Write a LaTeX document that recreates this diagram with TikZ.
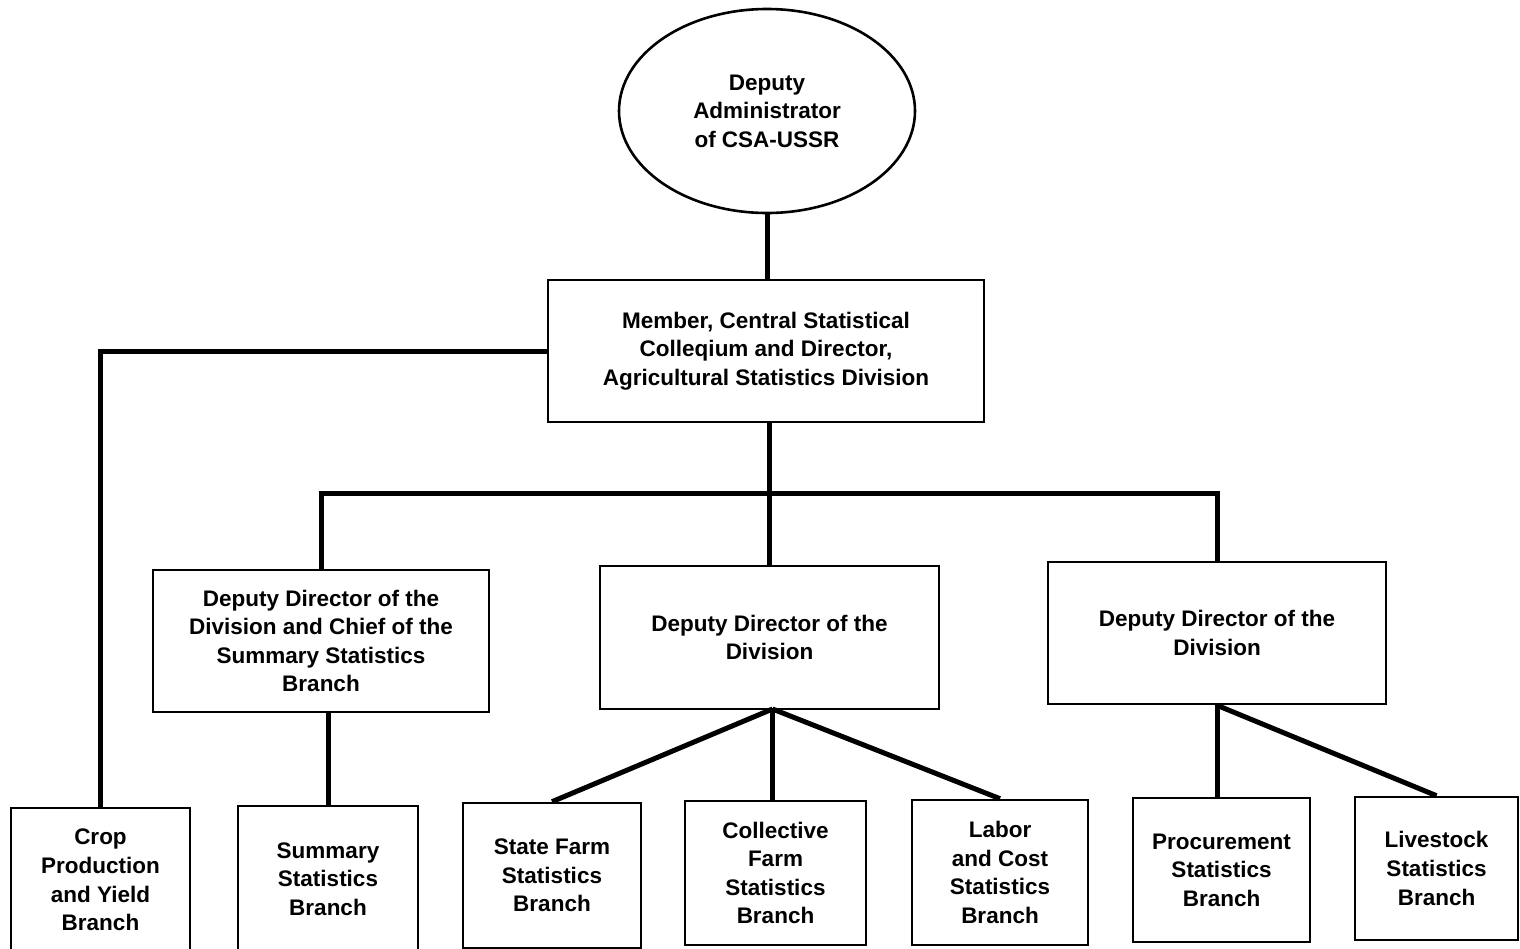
\documentclass[tikz,border=0pt]{standalone}
\usepackage{fontspec}
\setmainfont{Liberation Sans}
\usetikzlibrary{shapes.geometric}
\begin{document}
\begin{tikzpicture}[x=1pt,y=-1pt,
  box/.style={draw, line width=2.6pt, align=center, inner sep=0pt,
    font=\fontsize{22.5}{28.6}\selectfont\bfseries},
  conn/.style={line width=5pt}]
\fill[white] (0,0) rectangle (1520,948);
\clip (0,0) rectangle (1520,948);
\useasboundingbox (0,0) rectangle (1520,948);
% nodes
\node[box, ellipse, minimum width=296, minimum height=204] (ell) at (767,111)
  {Deputy\\Administrator\\of CSA-USSR};
\node[box, minimum width=436, minimum height=142] (mem) at (766,351)
  {Member, Central Statistical\\Colleqium and Director,\\Agricultural Statistics Division};
\node[box, minimum width=336, minimum height=142] (b1) at (321,641)
  {Deputy Director of the\\Division and Chief of the\\Summary Statistics\\Branch};
\node[box, minimum width=339, minimum height=143] (b2) at (769.5,637.5)
  {Deputy Director of the\\Division};
\node[box, minimum width=338, minimum height=142] (b3) at (1217,633)
  {Deputy Director of the\\Division};
\node[box, minimum width=179, minimum height=144] (crop) at (100.5,880)
  {Crop\\Production\\and Yield\\Branch};
\node[box, minimum width=180, minimum height=146] (summ) at (328,879)
  {Summary\\Statistics\\Branch};
\node[box, minimum width=178, minimum height=145] (state) at (552,875.5)
  {State Farm\\Statistics\\Branch};
\node[box, minimum width=181, minimum height=144] (coll) at (775.5,873)
  {Collective\\Farm\\Statistics\\Branch};
\node[box, minimum width=176, minimum height=145] (labor) at (1000,872.5)
  {Labor\\and Cost\\Statistics\\Branch};
\node[box, minimum width=177, minimum height=144] (proc) at (1221.5,870)
  {Procurement\\Statistics\\Branch};
\node[box, minimum width=163, minimum height=143] (live) at (1436.5,868.5)
  {Livestock\\Statistics\\Branch};
\coordinate (bus) at (769.5,493);
\coordinate (apex) at (772.5,709);
% connectors
\draw[conn] (ell.south) -- (ell.south |- mem.north);
\draw[conn] (mem.west) -| (crop.north);
\draw[conn] (mem.south -| bus) -- (b2.north -| bus);
\draw[conn] (b1.north) |- (bus) -| (b3.north);
\draw[conn] (summ.north |- b1.south) -- (summ.north);
\draw[conn] (apex) -- (state.north);
\draw[conn] (apex) -- (apex |- coll.north);
\draw[conn] (apex) -- (labor.north);
\draw[conn] (b3.south) -- (b3.south |- proc.north);
\draw[conn] (b3.south) -- (live.north);
\end{tikzpicture}
\end{document}
